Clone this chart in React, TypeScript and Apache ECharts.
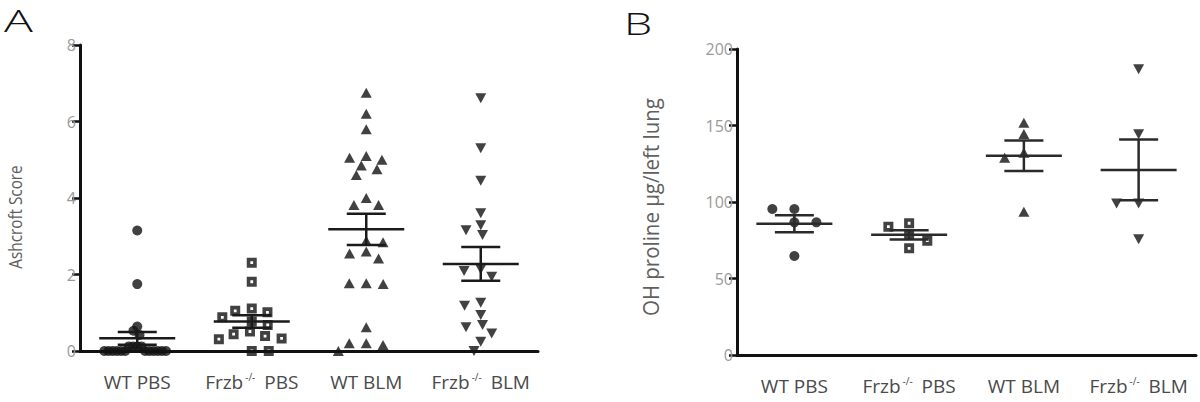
import React, { useEffect, useRef } from 'react';
import * as echarts from 'echarts';

const categories = ['WT PBS', 'Frzb-/- PBS', 'WT BLM', 'Frzb-/- BLM'];
const ashcroftTicks = [0, 2, 4, 6, 8];
const prolineTicks = [0, 50, 100, 150, 200];

// Panel A: Ashcroft score
const ashWTPBS = [3.15, 1.75, 0.64, 0.53, 0.42, 0.12, 0.12, 0.12, 0.12, 0, 0, 0, 0, 0, 0, 0, 0, 0, 0, 0, 0];
const ashFrzbPBS = [2.31, 1.81, 1.11, 1.05, 1.01, 0.88, 0.77, 0.68, 0.51, 0.44, 0.39, 0.33, 0.31, 0, 0];
const ashWTBLM = [6.75, 6.2, 5.8, 5.1, 5.05, 5.0, 4.85, 4.75, 4.6, 4.0, 3.82, 3.82, 2.88, 2.84, 2.6, 2.55, 2.42, 1.77, 1.75, 1.77, 0.62, 0.2, 0.16, 0.2, 0];
const ashFrzbBLM = [6.61, 5.3, 4.45, 3.6, 3.29, 3.16, 3.03, 2.14, 2.09, 1.94, 1.26, 1.18, 0.94, 0.68, 0.62, 0.46, 0.24, 0];

// Panel B: OH proline ug/left lung
const proWTPBS = [95.4, 95.4, 86.7, 86.7, 64.7];
const proFrzbPBS = [86.1, 83.9, 78.4, 74.7, 69.7];
const proWTBLM = [151.8, 144.4, 132.2, 129.0, 93.7];
const proFrzbBLM = [186.7, 144.2, 99.1, 99.1, 75.6];

const TEXT = '#4a4a4a';
const INK = '#111';
const FONT = '"Open Sans", "Noto Sans", sans-serif';
const SQUARE = 'path://M0,0L10,0L10,10L0,10Z M3.6,3.6L3.6,6.4L6.4,6.4L6.4,3.6Z';

function meanSem(v: number[]) {
  const n = v.length;
  const m = v.reduce((a, b) => a + b, 0) / n;
  const sd = Math.sqrt(v.reduce((a, b) => a + (b - m) * (b - m), 0) / (n - 1));
  return [m, sd / Math.sqrt(n)];
}

// beeswarm layout (GraphPad-like scatter spreading), returns offsets in category units
function swarm(values: number[], pxPerUnit: number, catPx: number, dx: number, hy: number, maxHalf: number) {
  const order = values.map((_, i) => i).sort((a, b) => values[b] - values[a]);
  const xs: number[] = new Array(values.length).fill(0);
  const placed: { x: number; y: number }[] = [];
  let flip = -1;
  for (const i of order) {
    const y = values[i] * pxPerUnit;
    const ivs: [number, number][] = [];
    for (const p of placed) {
      const dy = Math.abs(p.y - y);
      if (dy < hy) {
        const h = dx * Math.sqrt(1 - (dy / hy) * (dy / hy));
        ivs.push([p.x - h, p.x + h]);
      }
    }
    const cands = [0];
    ivs.forEach(([a, b]) => cands.push(a, b));
    const ok = (x: number) => ivs.every(([a, b]) => x <= a + 1e-6 || x >= b - 1e-6);
    let best: number | null = null;
    for (const c of cands) {
      if (!ok(c)) continue;
      if (best === null || Math.abs(c) < Math.abs(best) - 1e-6 ||
        (Math.abs(Math.abs(c) - Math.abs(best)) < 1e-6 && Math.sign(c) === flip)) best = c;
    }
    const b = best as number;
    if (Math.abs(b) > 1e-6) flip = -flip;
    xs[i] = b;
    placed.push({ x: b, y });
  }
  const m = Math.max(...xs.map(Math.abs));
  const k = m > maxHalf ? maxHalf / m : 1;
  return xs.map((x) => (x * k) / catPx);
}

function richLabel(v: string) {
  if (v.indexOf('-/-') >= 0) {
    const [a, b] = v.split('-/-');
    return `{a|${a}}{s|-/-}{a|${b}}`;
  }
  return `{a|${v}}`;
}

export default function App() {
  const ref = useRef<HTMLDivElement>(null);
  useEffect(() => {
    if (!ref.current) return;
    const chart = echarts.init(ref.current, undefined, { renderer: 'svg' });

    const A_PX = 38.25;
    const B_PX = 1.53;
    const CAT = 114.6;

    const groupsA = [ashWTPBS, ashFrzbPBS, ashWTBLM, ashFrzbBLM];
    const groupsB = [proWTPBS, proFrzbPBS, proWTBLM, proFrzbBLM];
    const symbols = [
      { symbol: 'circle', symbolSize: 10, symbolRotate: 0, itemStyle: { color: INK } },
      { symbol: SQUARE, symbolSize: 10, symbolRotate: 0, itemStyle: { color: INK } },
      { symbol: 'triangle', symbolSize: [11, 10], symbolRotate: 0, itemStyle: { color: INK } },
      { symbol: 'triangle', symbolSize: [11, 10], symbolRotate: 180, itemStyle: { color: INK } },
    ];

    const axisLabelCat = {
      interval: 0,
      margin: 21,
      formatter: richLabel,
      rich: {
        a: { fontSize: 19, color: TEXT, fontFamily: FONT },
        s: { fontSize: 10, color: TEXT, fontFamily: FONT, verticalAlign: 'top', padding: [0, 4, 8, 2] },
      },
    };

    const catAxis = (gridIndex: number) => ({
      type: 'category', gridIndex, data: categories,
      axisLine: { lineStyle: { color: INK, width: 3 } },
      axisTick: { alignWithLabel: true, interval: 0, length: 7, lineStyle: { color: INK, width: 2.5 } },
      axisLabel: axisLabelCat,
      splitLine: { show: false },
    });
    const valXAxis = (gridIndex: number) => ({
      type: 'value', gridIndex, min: 0.5, max: 4.5, show: false,
    });
    const yAxis = (gridIndex: number, ticks: number[]) => ({
      type: 'value', gridIndex, min: ticks[0], max: ticks[ticks.length - 1],
      interval: ticks[1] - ticks[0],
      axisLine: { show: true, lineStyle: { color: INK, width: 3 } },
      axisTick: { show: true, length: 8, lineStyle: { color: INK, width: 2.5 } },
      axisLabel: { color: '#9a9a9a', fontSize: 16, fontFamily: FONT, margin: 4 },
      splitLine: { show: false },
    });

    const series: any[] = [];
    const addPanel = (groups: number[][], pxPerUnit: number, xIdx: number, yIdx: number, meanColor: string, dx: number) => {
      groups.forEach((g, gi) => {
        const offs = swarm(g, pxPerUnit, CAT, dx, 10, 33);
        series.push({
          type: 'scatter', xAxisIndex: xIdx, yAxisIndex: yIdx,
          ...symbols[gi],
          data: g.map((v, i) => [gi + 1 + offs[i], v]),
          z: 2,
        });
      });
      series.push({
        type: 'custom', xAxisIndex: xIdx, yAxisIndex: yIdx, z: 3,
        data: groups.map((g, gi) => { const [m, s] = meanSem(g); return [gi + 1, m, s]; }),
        renderItem: (params: any, api: any) => {
          const x = api.value(0), m = api.value(1), s = api.value(2);
          const c = api.coord([x, m]);
          const hi = api.coord([x, m + s]);
          const lo = api.coord([x, m - s]);
          const st = { stroke: meanColor, lineWidth: 2.5 };
          return {
            type: 'group',
            children: [
              { type: 'line', shape: { x1: c[0] - 38, y1: c[1], x2: c[0] + 38, y2: c[1] }, style: st },
              { type: 'line', shape: { x1: c[0] - 19.5, y1: hi[1], x2: c[0] + 19.5, y2: hi[1] }, style: st },
              { type: 'line', shape: { x1: c[0] - 19.5, y1: lo[1], x2: c[0] + 19.5, y2: lo[1] }, style: st },
              { type: 'line', shape: { x1: c[0], y1: hi[1], x2: c[0], y2: lo[1] }, style: st },
            ],
          };
        },
      });
    };
    addPanel(groupsA, A_PX, 1, 0, '#1a1a1a', 17);
    addPanel(groupsB, B_PX, 3, 1, '#2a2a2a', 22);

    chart.setOption({
      animation: false,
      backgroundColor: '#fff',
      grid: [
        { left: 80, top: 45, width: 458, height: 306 },
        { left: 737, top: 49, width: 459, height: 306 },
      ],
      xAxis: [catAxis(0), valXAxis(0), catAxis(1), valXAxis(1)],
      yAxis: [yAxis(0, ashcroftTicks), yAxis(1, prolineTicks)],
      graphic: [
        { type: 'text', x: 4, y: 5, scaleX: 1.55, style: { text: 'A', fontSize: 31, fontWeight: 300, fontFamily: FONT, fill: '#111' } },
        { type: 'text', x: 624, y: 7, scaleX: 1.45, style: { text: 'B', fontSize: 31, fontWeight: 300, fontFamily: FONT, fill: '#111' } },
        { type: 'text', x: 15, y: 217, rotation: Math.PI / 2, scaleX: 0.85, style: { text: 'Ashcroft Score', fontSize: 18, fontFamily: FONT, fill: '#606060', textAlign: 'center', textVerticalAlign: 'middle' } },
        { type: 'text', x: 650, y: 207, rotation: Math.PI / 2, scaleX: 0.93, style: { text: 'OH proline µg/left lung', fontSize: 22, fontFamily: FONT, fill: '#606060', textAlign: 'center', textVerticalAlign: 'middle' } },
      ],
      series,
    });
    return () => chart.dispose();
  }, []);
  return <div ref={ref} style={{ position: 'fixed', left: 0, top: 0, width: 1200, height: 402 }} />;
}
